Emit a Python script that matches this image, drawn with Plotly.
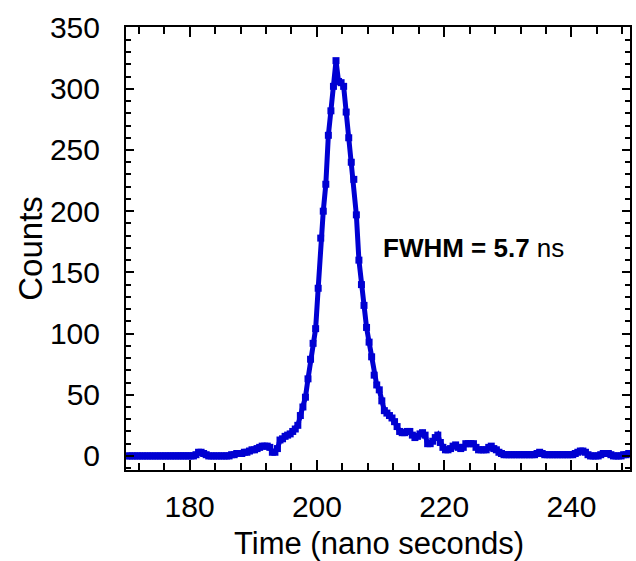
import plotly.graph_objects as go

time_ns = [
    170.2, 170.6, 171.0, 171.4, 171.8, 172.2, 172.6, 173.0, 173.4, 173.8,
    174.2, 174.6, 175.0, 175.4, 175.8, 176.2, 176.6, 177.0, 177.4, 177.8,
    178.2, 178.6, 179.0, 179.4, 179.8, 180.2, 180.6, 181.0, 181.4, 181.8,
    182.2, 182.6, 183.0, 183.4, 183.8, 184.2, 184.6, 185.0, 185.4, 185.8,
    186.2, 186.6, 187.0, 187.4, 187.8, 188.2, 188.6, 189.0, 189.4, 189.8,
    190.2, 190.6, 191.0, 191.4, 191.8, 192.2, 192.6, 193.0, 193.4, 193.8,
    194.2, 194.6, 195.0, 195.4, 195.8, 196.2, 196.6, 197.0, 197.4, 197.8,
    198.2, 198.6, 199.0, 199.4, 199.8, 200.2, 200.6, 201.0, 201.4, 201.8,
    202.2, 202.6, 203.0, 203.4, 203.8, 204.2, 204.6, 205.0, 205.4, 205.8,
    206.2, 206.6, 207.0, 207.4, 207.8, 208.2, 208.6, 209.0, 209.4, 209.8,
    210.2, 210.6, 211.0, 211.4, 211.8, 212.2, 212.6, 213.0, 213.4, 213.8,
    214.2, 214.6, 215.0, 215.4, 215.8, 216.2, 216.6, 217.0, 217.4, 217.8,
    218.2, 218.6, 219.0, 219.4, 219.8, 220.2, 220.6, 221.0, 221.4, 221.8,
    222.2, 222.6, 223.0, 223.4, 223.8, 224.2, 224.6, 225.0, 225.4, 225.8,
    226.2, 226.6, 227.0, 227.4, 227.8, 228.2, 228.6, 229.0, 229.4, 229.8,
    230.2, 230.6, 231.0, 231.4, 231.8, 232.2, 232.6, 233.0, 233.4, 233.8,
    234.2, 234.6, 235.0, 235.4, 235.8, 236.2, 236.6, 237.0, 237.4, 237.8,
    238.2, 238.6, 239.0, 239.4, 239.8, 240.2, 240.6, 241.0, 241.4, 241.8,
    242.2, 242.6, 243.0, 243.4, 243.8, 244.2, 244.6, 245.0, 245.4, 245.8,
    246.2, 246.6, 247.0, 247.4, 247.8, 248.2, 248.6, 249.0, 249.4,
]

counts = [
    0, 0, 0, 0, 0, 0, 0, 0, 0, 0,
    0, 0, 0, 0, 0, 0, 0, 0, 0, 0,
    0, 0, 0, 0, 0, 0, 0, 1, 3, 3,
    2, 1, 0, 0, 0, 0, 0, 0, 0, 0,
    0, 1, 1, 2, 2, 2, 3, 3, 4, 5,
    5, 6, 7, 8, 8, 8, 7, 3, 3, 6,
    13, 14, 16, 17, 18, 20, 22, 25, 33, 40,
    48, 63, 79, 92, 104, 137, 178, 200, 222, 262,
    282, 302, 323, 306, 305, 302, 281, 260, 240, 226,
    197, 160, 140, 123, 105, 93, 81, 66, 58, 54,
    45, 37, 35, 33, 31, 28, 24, 20, 19, 19,
    20, 20, 17, 15, 16, 18, 19, 17, 10, 10,
    12, 15, 17, 11, 7, 5, 5, 6, 8, 9,
    7, 6, 7, 10, 10, 10, 10, 7, 5, 5,
    5, 5, 7, 8, 6, 5, 3, 2, 1, 1,
    1, 1, 1, 1, 1, 1, 1, 1, 1, 1,
    1, 2, 3, 2, 1, 1, 1, 1, 1, 1,
    1, 1, 1, 1, 1, 1, 2, 3, 4, 4,
    3, 1, 0, 0, 0, 0, 1, 2, 2, 2,
    1, 0, 0, 0, 0, 1, 1, 2, 2,
]

x_tick_vals = [180, 200, 220, 240]
y_tick_vals = [0, 50, 100, 150, 200, 250, 300, 350]

BLUE = "rgb(0,0,210)"
FONT = "Liberation Sans, Arial, sans-serif"

fig = go.Figure()
fig.add_trace(go.Scatter(
    x=time_ns, y=counts, mode="lines+markers",
    line=dict(color=BLUE, width=5),
    marker=dict(symbol="square", size=7, color=BLUE),
    showlegend=False,
))

fig.add_annotation(
    x=210.1, y=170, xref="x", yref="y", xanchor="left", yanchor="middle",
    text="<b>FWHM = 5.7</b> ns", showarrow=False,
    font=dict(family=FONT, size=26, color="black"),
)
fig.add_annotation(
    x=0.502, y=-0.165, xref="paper", yref="paper", xanchor="center", yanchor="middle",
    text="Time (nano seconds)", showarrow=False,
    font=dict(family=FONT, size=31, color="black"),
)
fig.add_annotation(
    x=-0.19, y=0.50, xref="paper", yref="paper", xanchor="center", yanchor="middle",
    text="Counts", showarrow=False, textangle=-90,
    font=dict(family=FONT, size=33, color="black"),
)

axis_common = dict(
    showgrid=False, zeroline=False, showline=True, linecolor="black",
    linewidth=2, mirror="allticks", ticks="inside", tickcolor="black",
    tickwidth=2, tickfont=dict(family=FONT, size=30, color="black"),
)

fig.update_xaxes(
    range=[170, 249.2], tickvals=x_tick_vals, ticklen=10,
    minor=dict(dtick=4, ticks="inside", ticklen=7, tickcolor="black", tickwidth=2),
    ticklabelstandoff=9,
    **axis_common,
)
fig.update_yaxes(
    range=[-11.5, 350.5], tickvals=y_tick_vals, ticklen=8,
    minor=dict(dtick=10, ticks="inside", ticklen=5, tickcolor="black", tickwidth=2),
    ticklabelstandoff=18,
    **axis_common,
)

fig.update_layout(
    width=636, height=561,
    margin=dict(l=126, r=4, t=27, b=91),
    paper_bgcolor="white", plot_bgcolor="white",
)

fig.write_html("out.html")
